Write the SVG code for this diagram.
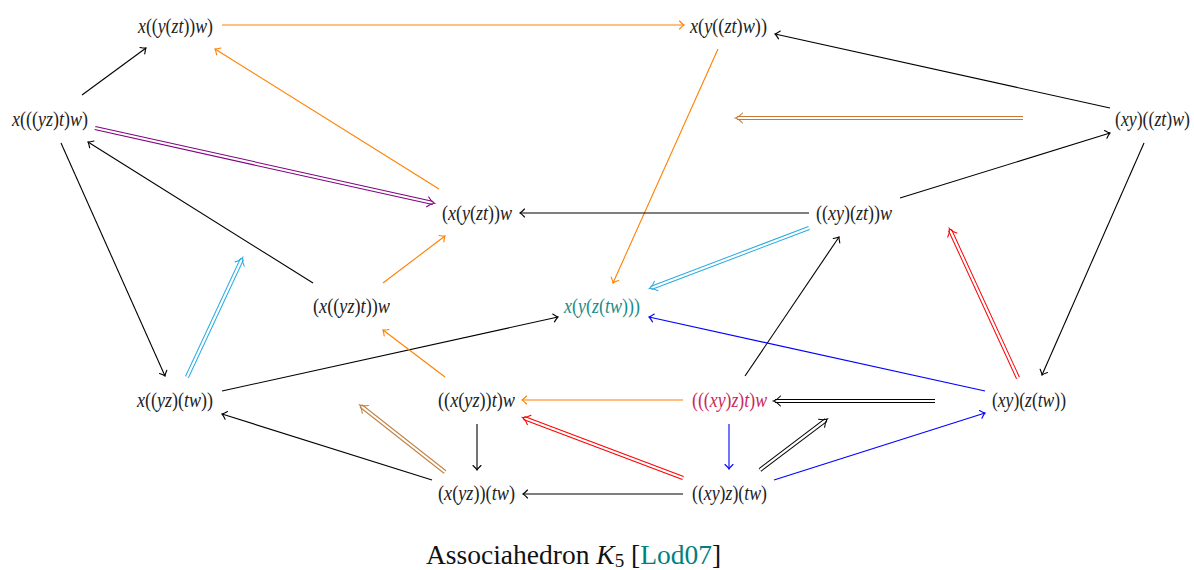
<svg xmlns="http://www.w3.org/2000/svg" width="1194" height="570" viewBox="0 0 1194 570">
<style>
.lbl{font-family:"Liberation Serif",serif;font-style:italic;font-size:22px;fill:#222}
.p{font-style:normal}
.e{fill:none;stroke-width:1.1}
.k{stroke:#000}
.o{stroke:#ff8000}
.b{stroke:#0000ff}
.d{fill:none;stroke-width:4.2}
.c{fill:none;stroke:#fff;stroke-width:2.2}
.cap{font-family:"Liberation Serif",serif;font-size:27.5px;fill:#111}
</style>
<defs>
<marker id="hk" viewBox="-8 -6 10 12" refX="0" refY="0" markerWidth="10" markerHeight="12" markerUnits="userSpaceOnUse" orient="auto" overflow="visible"><path d="M-4.5,-4 Q-1.5,-0.8 0,0 Q-1.5,0.8 -4.5,4" fill="none" stroke="#000" stroke-width="1.1" stroke-linecap="round"/></marker>
<marker id="ho" viewBox="-8 -6 10 12" refX="0" refY="0" markerWidth="10" markerHeight="12" markerUnits="userSpaceOnUse" orient="auto" overflow="visible"><path d="M-4.5,-4 Q-1.5,-0.8 0,0 Q-1.5,0.8 -4.5,4" fill="none" stroke="#ff8000" stroke-width="1.1" stroke-linecap="round"/></marker>
<marker id="hb" viewBox="-8 -6 10 12" refX="0" refY="0" markerWidth="10" markerHeight="12" markerUnits="userSpaceOnUse" orient="auto" overflow="visible"><path d="M-4.5,-4 Q-1.5,-0.8 0,0 Q-1.5,0.8 -4.5,4" fill="none" stroke="#0000ff" stroke-width="1.1" stroke-linecap="round"/></marker>
<marker id="dbr" viewBox="-8 -6 10 12" refX="0" refY="0" markerWidth="10" markerHeight="12" markerUnits="userSpaceOnUse" orient="auto" overflow="visible"><path d="M-5.5,-5 Q-2,-1 1.5,0 Q-2,1 -5.5,5" fill="none" stroke="#c8782f" stroke-width="1.1" stroke-linecap="round"/></marker>
<marker id="dpu" viewBox="-8 -6 10 12" refX="0" refY="0" markerWidth="10" markerHeight="12" markerUnits="userSpaceOnUse" orient="auto" overflow="visible"><path d="M-5.5,-5 Q-2,-1 1.5,0 Q-2,1 -5.5,5" fill="none" stroke="#800080" stroke-width="1.1" stroke-linecap="round"/></marker>
<marker id="dcy" viewBox="-8 -6 10 12" refX="0" refY="0" markerWidth="10" markerHeight="12" markerUnits="userSpaceOnUse" orient="auto" overflow="visible"><path d="M-5.5,-5 Q-2,-1 1.5,0 Q-2,1 -5.5,5" fill="none" stroke="#29abe2" stroke-width="1.1" stroke-linecap="round"/></marker>
<marker id="dre" viewBox="-8 -6 10 12" refX="0" refY="0" markerWidth="10" markerHeight="12" markerUnits="userSpaceOnUse" orient="auto" overflow="visible"><path d="M-5.5,-5 Q-2,-1 1.5,0 Q-2,1 -5.5,5" fill="none" stroke="#ff0000" stroke-width="1.1" stroke-linecap="round"/></marker>
<marker id="dta" viewBox="-8 -6 10 12" refX="0" refY="0" markerWidth="10" markerHeight="12" markerUnits="userSpaceOnUse" orient="auto" overflow="visible"><path d="M-5.5,-5 Q-2,-1 1.5,0 Q-2,1 -5.5,5" fill="none" stroke="#bf8040" stroke-width="1.1" stroke-linecap="round"/></marker>
<marker id="dbk" viewBox="-8 -6 10 12" refX="0" refY="0" markerWidth="10" markerHeight="12" markerUnits="userSpaceOnUse" orient="auto" overflow="visible"><path d="M-5.5,-5 Q-2,-1 1.5,0 Q-2,1 -5.5,5" fill="none" stroke="#000" stroke-width="1.1" stroke-linecap="round"/></marker>
</defs>

<g id="connectors">
<path class="e k" d="M82,95 L146,48" marker-end="url(#hk)"/>
<path class="e o" d="M222,25 L684,25" marker-end="url(#ho)"/>
<path class="e o" d="M439,189 L215,49" marker-end="url(#ho)"/>
<path class="e k" d="M1110,108 L775,34" marker-end="url(#hk)"/>
<path class="e o" d="M718,49 L613,283" marker-end="url(#ho)"/>
<path class="e k" d="M900,198 L1110,133" marker-end="url(#hk)"/>
<path class="e k" d="M1144,143 L1042,375" marker-end="url(#hk)"/>
<path class="e k" d="M809,213 L520,213" marker-end="url(#hk)"/>
<path class="e k" d="M313,283 L88,142" marker-end="url(#hk)"/>
<path class="e k" d="M61,143 L165,376" marker-end="url(#hk)"/>
<path class="e o" d="M383,283 L445,236" marker-end="url(#ho)"/>
<path class="e k" d="M745,376 L839,237" marker-end="url(#hk)"/>
<path class="e b" d="M985,391 L649,317" marker-end="url(#hb)"/>
<path class="e k" d="M222,391 L558,317" marker-end="url(#hk)"/>
<path class="e o" d="M445,377 L383,330" marker-end="url(#ho)"/>
<path class="e o" d="M683,400 L522,400" marker-end="url(#ho)"/>
<path class="e k" d="M432,480 L222,414" marker-end="url(#hk)"/>
<path class="e k" d="M477,424 L477,470" marker-end="url(#hk)"/>
<path class="e b" d="M729,424 L729,469" marker-end="url(#hb)"/>
<path class="e b" d="M774,480 L985,413" marker-end="url(#hb)"/>
<path class="e k" d="M683,494 L523,494" marker-end="url(#hk)"/>

<path class="d" stroke="#c8782f" d="M1023,118 L737,118"/><path class="c" d="M1023,118 L737,118" marker-end="url(#dbr)"/>
<path class="d" stroke="#800080" d="M95,128 L433,203"/><path class="c" d="M95,128 L433,203" marker-end="url(#dpu)"/>
<path class="d" stroke="#29abe2" d="M187,377 L242,259"/><path class="c" d="M187,377 L242,259" marker-end="url(#dcy)"/>
<path class="d" stroke="#29abe2" d="M809,228 L651,288"/><path class="c" d="M809,228 L651,288" marker-end="url(#dcy)"/>
<path class="d" stroke="#ff0000" d="M1018,378 L950,230"/><path class="c" d="M1018,378 L950,230" marker-end="url(#dre)"/>
<path class="d" stroke="#000" d="M935,401 L775,401"/><path class="c" d="M935,401 L775,401" marker-end="url(#dbk)"/>
<path class="d" stroke="#bf8040" d="M445,472 L361,406"/><path class="c" d="M445,472 L361,406" marker-end="url(#dta)"/>
<path class="d" stroke="#ff0000" d="M683,478 L524,418"/><path class="c" d="M683,478 L524,418" marker-end="url(#dre)"/>
<path class="d" stroke="#000" d="M760,470 L826,420"/><path class="c" d="M760,470 L826,420" marker-end="url(#dbk)"/>
</g>

<g id="n-A"><text class="lbl" x="138" y="32.5" textLength="75" lengthAdjust="spacingAndGlyphs">x<tspan class="p">((</tspan>y<tspan class="p">(</tspan>zt<tspan class="p">))</tspan>w<tspan class="p">)</tspan></text></g>
<g id="n-B"><text class="lbl" x="690" y="32.5" textLength="77" lengthAdjust="spacingAndGlyphs">x<tspan class="p">(</tspan>y<tspan class="p">((</tspan>zt<tspan class="p">)</tspan>w<tspan class="p">))</tspan></text></g>
<g id="n-C"><text class="lbl" x="12" y="126" textLength="76" lengthAdjust="spacingAndGlyphs">x<tspan class="p">(((</tspan>yz<tspan class="p">)</tspan>t<tspan class="p">)</tspan>w<tspan class="p">)</tspan></text></g>
<g id="n-D"><text class="lbl" x="1115" y="126" textLength="75" lengthAdjust="spacingAndGlyphs"><tspan class="p">(</tspan>xy<tspan class="p">)((</tspan>zt<tspan class="p">)</tspan>w<tspan class="p">)</tspan></text></g>
<g id="n-E"><text class="lbl" x="442" y="219.5" textLength="70" lengthAdjust="spacingAndGlyphs"><tspan class="p">(</tspan>x<tspan class="p">(</tspan>y<tspan class="p">(</tspan>zt<tspan class="p">))</tspan>w</text></g>
<g id="n-F"><text class="lbl" x="816" y="219.5" textLength="76" lengthAdjust="spacingAndGlyphs"><tspan class="p">((</tspan>xy<tspan class="p">)(</tspan>zt<tspan class="p">))</tspan>w</text></g>
<g id="n-G"><text class="lbl" x="313" y="313" textLength="77" lengthAdjust="spacingAndGlyphs"><tspan class="p">(</tspan>x<tspan class="p">((</tspan>yz<tspan class="p">)</tspan>t<tspan class="p">))</tspan>w</text></g>
<g id="n-H"><text class="lbl" x="564" y="313" textLength="76" lengthAdjust="spacingAndGlyphs" style="fill:#1a8c88">x<tspan class="p">(</tspan>y<tspan class="p">(</tspan>z<tspan class="p">(</tspan>tw<tspan class="p">)))</tspan></text></g>
<g id="n-I"><text class="lbl" x="137" y="407" textLength="76" lengthAdjust="spacingAndGlyphs">x<tspan class="p">((</tspan>yz<tspan class="p">)(</tspan>tw<tspan class="p">))</tspan></text></g>
<g id="n-J"><text class="lbl" x="438" y="407" textLength="77" lengthAdjust="spacingAndGlyphs"><tspan class="p">((</tspan>x<tspan class="p">(</tspan>yz<tspan class="p">))</tspan>t<tspan class="p">)</tspan>w</text></g>
<g id="n-K"><text class="lbl" x="692" y="407" textLength="75" lengthAdjust="spacingAndGlyphs" style="fill:#c8285e"><tspan class="p">(((</tspan>xy<tspan class="p">)</tspan>z<tspan class="p">)</tspan>t<tspan class="p">)</tspan>w</text></g>
<g id="n-L"><text class="lbl" x="992" y="407" textLength="74" lengthAdjust="spacingAndGlyphs"><tspan class="p">(</tspan>xy<tspan class="p">)(</tspan>z<tspan class="p">(</tspan>tw<tspan class="p">))</tspan></text></g>
<g id="n-M"><text class="lbl" x="438" y="500" textLength="77" lengthAdjust="spacingAndGlyphs"><tspan class="p">(</tspan>x<tspan class="p">(</tspan>yz<tspan class="p">))(</tspan>tw<tspan class="p">)</tspan></text></g>
<g id="n-N"><text class="lbl" x="692" y="500" textLength="75" lengthAdjust="spacingAndGlyphs"><tspan class="p">((</tspan>xy<tspan class="p">)</tspan>z<tspan class="p">)(</tspan>tw<tspan class="p">)</tspan></text></g>

<g id="caption">
<text class="cap" x="426" y="564">Associahedron <tspan font-style="italic">K</tspan><tspan font-size="19" dy="3">5</tspan><tspan dy="-3"> [</tspan><tspan fill="#008080">Lod07</tspan>]</text>
</g>
</svg>
